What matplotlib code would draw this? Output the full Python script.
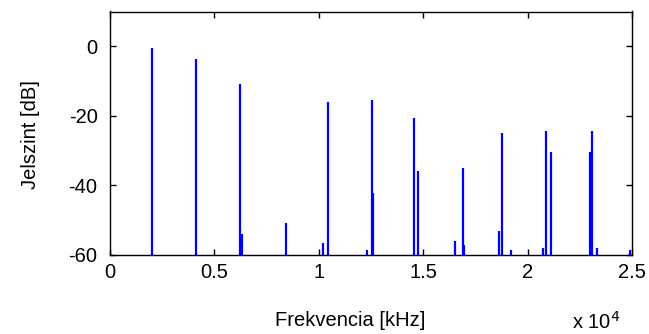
import matplotlib
matplotlib.use('Agg')
import matplotlib.pyplot as plt
from matplotlib.ticker import FuncFormatter

# spectral lines: frequency [Hz], level [dB]
freq = [1997, 4119, 6226, 6336, 8444, 10216, 10455,
        12290, 12562, 12610, 14559, 14735,
        16525, 16891, 16931, 18630, 18774, 19205,
        20737, 20881, 21103, 22989, 23098, 23324, 24904]
level = [-0.6, -3.7, -10.8, -53.9, -50.7, -56.5, -15.9,
         -58.5, -15.4, -42.3, -20.5, -35.9,
         -55.9, -35.1, -57.2, -53.2, -25.0, -58.5,
         -57.9, -24.3, -30.3, -30.3, -24.3, -57.9, -58.5]

xticks = [0, 5000, 10000, 15000, 20000, 25000]
yticks = [-60, -40, -20, 0]

plt.rcParams['font.family'] = ['Liberation Sans', 'DejaVu Sans']
plt.rcParams['axes.unicode_minus'] = False

fig = plt.figure(figsize=(6.49, 3.34), dpi=100)
ax = fig.add_axes([110/649, 1 - 255/334, (632 - 110)/649, (255 - 11.5)/334])

ax.vlines(freq, -60, level, colors='#0000ff', linewidth=1.6)

ax.set_xlim(0, 25000)
ax.set_ylim(-60, 10)
ax.set_xticks(xticks)
ax.set_yticks(yticks)
ax.xaxis.set_major_formatter(FuncFormatter(lambda v, p: '%g' % (v / 1e4)))

ax.tick_params(direction='in', top=True, right=True, length=4, width=1,
               labelsize=14.5)
ax.tick_params(axis='y', pad=9)
ax.tick_params(axis='x', pad=6)
for s in ax.spines.values():
    s.set_linewidth(1)

fig.text(30/649, 1 - 135/334, 'Jelszint [dB]', fontsize=14.5,
         rotation=90, ha='center', va='center')
fig.text(350/649, 1 - 320/334, 'Frekvencia [kHz]', fontsize=14.5,
         ha='center', va='center')
fig.text(572/649, 1 - 322/334, 'x 10$^{4}$', fontsize=14.5,
         ha='left', va='center')

fig.savefig('out.png', dpi=100)
